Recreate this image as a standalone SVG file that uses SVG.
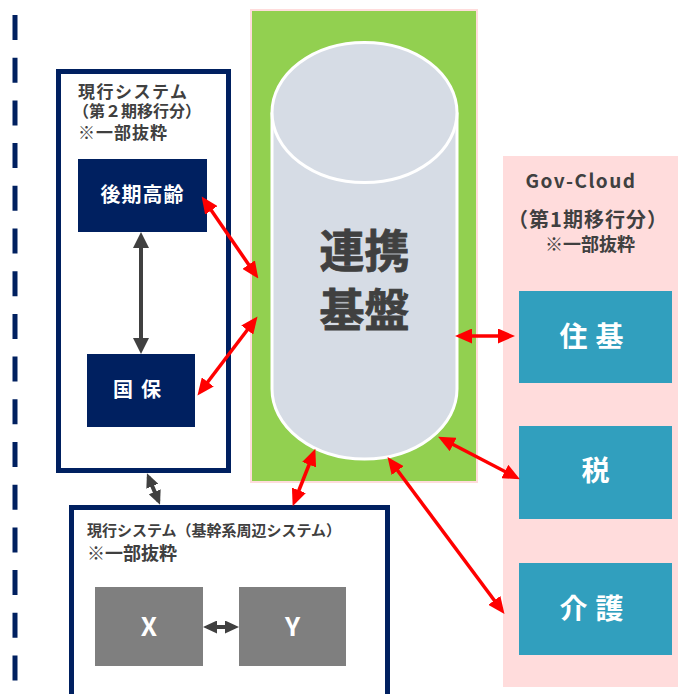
<svg xmlns="http://www.w3.org/2000/svg" width="678" height="694" viewBox="0 0 678 694">
<style>
  text { font-family: "Noto Sans CJK JP", "Noto Sans", sans-serif; font-weight: bold; }
  .lbl { fill: #404040; }
  .wt { fill: #ffffff; }
  .navybox { fill: #ffffff; stroke: #002060; stroke-width: 5; }
  .navy { fill: #002060; }
  .teal { fill: #319FBE; }
  .gray { fill: #7F7F7F; }
  .red { stroke: #FF0000; stroke-width: 3.5; fill: none; marker-start: url(#rh); marker-end: url(#rh); }
  .dk { stroke: #404040; stroke-width: 4; fill: none; marker-start: url(#dh); marker-end: url(#dh); }
  .dks { stroke: #404040; stroke-width: 4; fill: none; marker-start: url(#dhs); marker-end: url(#dhs); }
</style>
<defs>
  <marker id="rh" markerUnits="userSpaceOnUse" markerWidth="17" markerHeight="15" refX="12" refY="7.5" orient="auto-start-reverse">
    <path d="M0,0 L17,7.5 L0,15 z" fill="#FF0000"/>
  </marker>
  <marker id="dh" markerUnits="userSpaceOnUse" markerWidth="16" markerHeight="16" refX="12" refY="8" orient="auto-start-reverse">
    <path d="M0,0 L16,8 L0,16 z" fill="#404040"/>
  </marker>
  <marker id="dhs" markerUnits="userSpaceOnUse" markerWidth="14" markerHeight="13" refX="10" refY="6.5" orient="auto-start-reverse">
    <path d="M0,0 L14,6.5 L0,13 z" fill="#404040"/>
  </marker>
</defs>
<rect width="678" height="694" fill="#ffffff"/>

<line x1="15" y1="15" x2="15" y2="694" stroke="#002060" stroke-width="5" stroke-dasharray="25 17.7"/>

<g id="gov-cloud">
  <rect x="503" y="156" width="176" height="531" fill="#FFDCDC"/>
  <text class="lbl" x="581" y="188" font-size="19" text-anchor="middle" letter-spacing="1.5">Gov-Cloud</text>
  <text class="lbl" x="588" y="227" font-size="20" text-anchor="middle" letter-spacing="1">（第1期移行分）</text>
  <text class="lbl" x="590" y="251" font-size="18" text-anchor="middle">※一部抜粋</text>
</g>

<g id="renkei">
  <rect x="251" y="10" width="226" height="472" fill="#92D050" stroke="#FFDCDC" stroke-width="2"/>
  <path d="M272,112.5 V389 A92.5,70 0 0 0 457,389 V112.5" fill="#D6DCE5" stroke="#ffffff" stroke-width="3"/>
  <ellipse cx="364.5" cy="112.5" rx="92.5" ry="70" fill="#D6DCE5" stroke="#ffffff" stroke-width="3"/>
  <text class="lbl" x="364.5" y="268" font-size="45" text-anchor="middle" stroke="#404040" stroke-width="0.8">連携</text>
  <text class="lbl" x="364.5" y="327" font-size="45" text-anchor="middle" stroke="#404040" stroke-width="0.8">基盤</text>
</g>

<g id="current2">
  <rect class="navybox" x="58.5" y="71.5" width="170" height="399"/>
  <text class="lbl" x="78" y="98" font-size="17" letter-spacing="1.5">現行システム</text>
  <text class="lbl" x="73" y="117" font-size="16">（第２期移行分）</text>
  <text class="lbl" x="78" y="139" font-size="17" letter-spacing="1">※一部抜粋</text>
</g>

<g id="kouki">
  <rect class="navy" x="78" y="159" width="129" height="73"/>
  <text class="wt" x="142.5" y="202" font-size="20" text-anchor="middle" letter-spacing="1">後期高齢</text>
</g>

<g id="kokuho">
  <rect class="navy" x="87" y="354" width="108" height="73"/>
  <text class="wt" x="141" y="397" font-size="20" text-anchor="middle" letter-spacing="8">国保</text>
</g>

<g id="juki">
  <rect class="teal" x="519" y="291" width="153" height="92"/>
  <text class="wt" x="595.5" y="347" font-size="28" text-anchor="middle" letter-spacing="8">住基</text>
</g>

<g id="zei">
  <rect class="teal" x="519" y="426" width="153" height="93"/>
  <text class="wt" x="595.5" y="481" font-size="28" text-anchor="middle">税</text>
</g>

<g id="kaigo">
  <rect class="teal" x="519" y="563" width="153" height="92"/>
  <text class="wt" x="595.5" y="619" font-size="28" text-anchor="middle" letter-spacing="8">介護</text>
</g>

<g id="current-periph">
  <rect class="navybox" x="71.5" y="507.5" width="316" height="200"/>
  <text class="lbl" x="87" y="536" font-size="15">現行システム（基幹系周辺システム）</text>
  <text class="lbl" x="87" y="560" font-size="18">※一部抜粋</text>
</g>

<g id="x">
  <rect class="gray" x="95" y="587" width="108" height="79"/>
  <text class="wt" x="149" y="636" font-size="26" text-anchor="middle">X</text>
</g>

<g id="y">
  <rect class="gray" x="239" y="587" width="107" height="79"/>
  <text class="wt" x="292.5" y="636" font-size="26" text-anchor="middle">Y</text>
</g>

<g id="connectors">
  <line class="dk" x1="141" y1="236" x2="141" y2="350"/>
  <line class="dks" x1="148.5" y1="477" x2="158.5" y2="501"/>
  <line class="dks" x1="207" y1="627" x2="235" y2="627"/>
  <line class="red" x1="204.5" y1="200.5" x2="255.5" y2="274.5"/>
  <line class="red" x1="200.5" y1="391.5" x2="254.5" y2="320.5"/>
  <line class="red" x1="460" y1="336" x2="510" y2="336"/>
  <line class="red" x1="442.5" y1="439" x2="515.5" y2="477"/>
  <line class="red" x1="390.5" y1="461" x2="501.5" y2="610"/>
  <line class="red" x1="313.5" y1="453.5" x2="294.5" y2="501.5"/>
</g>
</svg>
